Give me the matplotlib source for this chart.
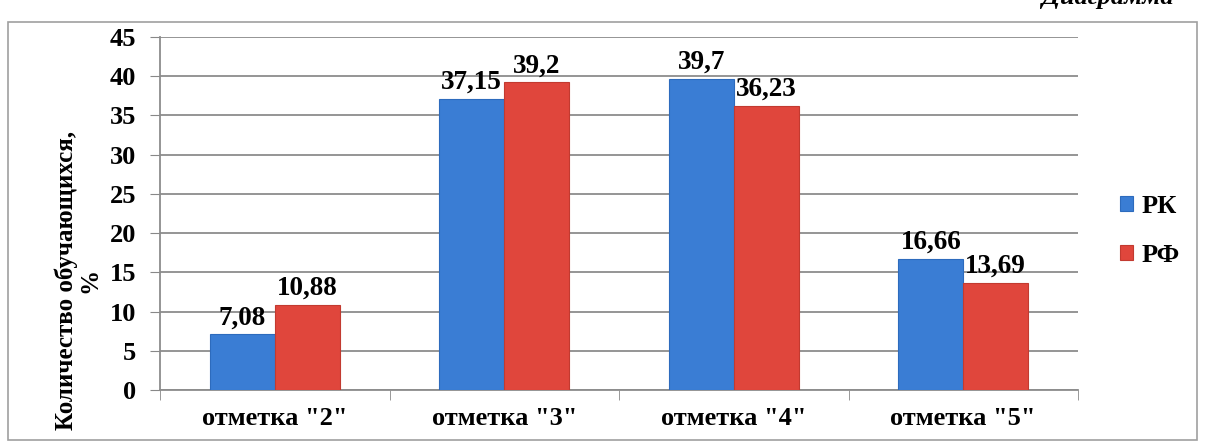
import numpy as np
import matplotlib.pyplot as plt
from matplotlib.patches import Rectangle

plt.rcParams['font.family'] = ['Liberation Serif', 'DejaVu Serif']
plt.rcParams['font.weight'] = 'bold'

# data
categories = ['отметка "2"', 'отметка "3"', 'отметка "4"', 'отметка "5"']
rk = [7.08, 37.15, 39.7, 16.66]
rf = [10.88, 39.2, 36.23, 13.69]
rk_labels = ['7,08', '37,15', '39,7', '16,66']
rf_labels = ['10,88', '39,2', '36,23', '13,69']

W, H = 1205, 448
fig = plt.figure(figsize=(W / 100, H / 100), dpi=100)
ax = fig.add_axes([160 / W, 1 - 390 / H, 918 / W, 353 / H])

# outer frame
fig.patches.append(Rectangle((8 / W, 1 - 440 / H), 1189 / W, 418 / H,
                             transform=fig.transFigure, fill=False,
                             edgecolor='#a0a0a0', lw=1.2))
# caption cut off at the top edge, as in the source
fig.text(1042 / W, 1 - 4 / H, 'Диаграмма', fontsize=19, style='italic',
         fontweight='bold', va='baseline', ha='left')

x = np.arange(len(categories))
w = 0.283
b1 = ax.bar(x - w / 2, rk, w, color='#3a7dd4', edgecolor='#2d6bbd', lw=0.8,
            label='РК', zorder=3)
b2 = ax.bar(x + w / 2, rf, w, color='#e0463c', edgecolor='#c23a30', lw=0.8,
            label='РФ', zorder=3)

for bars, labs in ((b1, rk_labels), (b2, rf_labels)):
    for r, t in zip(bars, labs):
        ax.annotate(t, (r.get_x() + r.get_width() / 2, r.get_height()),
                    xytext=(0, 3), textcoords='offset points',
                    ha='center', va='bottom', fontsize=19.5, fontweight='bold')

ax.set_xlim(-0.5, 3.5)
ax.set_ylim(0, 45)
ax.set_yticks(range(0, 50, 5))
ax.set_xticks(x)
ax.set_xticklabels(categories, fontsize=19, fontweight='bold')
ax.set_xticks(np.arange(-0.5, 4, 1), minor=True)
ax.tick_params(axis='x', which='major', length=0, pad=12)
ax.tick_params(axis='x', which='minor', length=7, color='#888888', direction='out')
ax.tick_params(axis='y', length=7, color='#888888', labelsize=19, pad=10)
for lab in ax.get_yticklabels():
    lab.set_fontweight('bold')

ax.grid(axis='y', color='#8c8c8c', lw=1.3, zorder=0)
for s in ('top', 'right'):
    ax.spines[s].set_visible(False)
ax.spines['left'].set_color('#8c8c8c')
ax.spines['bottom'].set_color('#8c8c8c')
ax.spines['left'].set_linewidth(1.3)
ax.spines['bottom'].set_linewidth(1.3)

fig.text(78 / W, 1 - 280 / H, 'Количество обучающихся,\n%', rotation=90,
         ha='center', va='center', fontsize=18, fontweight='bold',
         multialignment='center', linespacing=1.0)

fig.legend(handles=[b1, b2], loc='center left',
           bbox_to_anchor=(1120 / W, 1 - 231 / H), frameon=False,
           fontsize=19, handlelength=0.5, handleheight=0.5, borderpad=0,
           borderaxespad=0, handletextpad=0.3, labelspacing=1.0)

fig.savefig('out.png', dpi=100)
